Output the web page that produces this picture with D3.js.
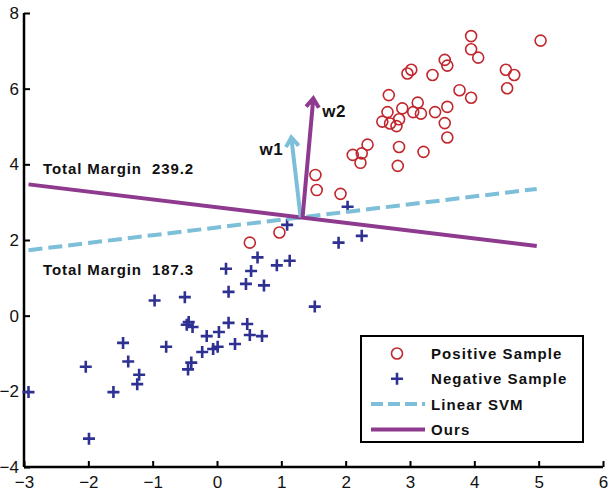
<!DOCTYPE html>
<html>
<head>
<meta charset="utf-8">
<script src="https://cdn.jsdelivr.net/npm/d3@7"></script>
<style>
body { margin: 0; background: #fff; }
text { font-family: "Liberation Sans", Arial, sans-serif; }
</style>
</head>
<body>
<svg id="chart"></svg>
<script>
var svgw = 609
var svgh = 495

// positive samples (circles)
var posX = [3.95, 5.03, 3.95, 4.06, 3.54, 3.58, 4.49, 4.62, 3.02, 2.96, 3.35, 4.51, 3.77, 3.95, 2.67,
            3.12, 2.88, 3.58, 2.65, 3.05, 3.17, 3.39, 2.57, 2.83, 2.69, 2.79, 3.54, 3.58, 2.34, 2.83,
            3.21, 2.25, 2.11, 2.23, 2.81, 1.53, 1.55, 1.92, 0.97, 0.51]
var posY = [7.39, 7.27, 7.04, 6.82, 6.76, 6.61, 6.50, 6.36, 6.50, 6.40, 6.36, 6.01, 5.96, 5.76, 5.83,
            5.63, 5.48, 5.52, 5.38, 5.38, 5.34, 5.38, 5.13, 5.19, 5.08, 5.01, 5.09, 4.71, 4.52, 4.46,
            4.33, 4.29, 4.25, 4.04, 3.96, 3.72, 3.32, 3.22, 2.20, 1.93]

// negative samples (plus)
var negX = [-2.93, -1.99, -2.04, -1.61, -1.46, -1.38, -1.21, -1.24, -0.97, -0.79, -0.50, -0.44, -0.38,
            -0.47, -0.40, -0.45, -0.23, -0.16, 0.03, -0.06, 0.01, 0.18, 0.47, 0.28, 0.51, 0.70, 0.14,
            0.18, 0.45, 0.73, 0.53, 0.63, 0.93, 1.13, 1.09, 2.03, 2.25, 1.89, 1.52]
var negY = [-2.02, -3.25, -1.35, -2.02, -0.72, -1.21, -1.56, -1.81, 0.40, -0.82, 0.49, -0.17, -0.30,
            -0.24, -1.24, -1.42, -0.96, -0.54, -0.43, -0.88, -0.82, -0.19, -0.22, -0.75, -0.51, -0.54, 1.24,
            0.63, 0.84, 0.80, 1.18, 1.54, 1.33, 1.45, 2.40, 2.88, 2.11, 1.93, 0.24]

// separating lines, [x, y] endpoints
var oursLine = [[-2.93, 3.47], [4.97, 1.84]]
var svmLine = [[-2.93, 1.73], [4.97, 3.35]]

// normal vectors
var w1 = [[1.30, 2.60], [1.155, 4.71]]
var w2 = [[1.33, 2.60], [1.497, 5.745]]

var marginLabels = ["Total Margin  239.2", "Total Margin  187.3"]
var legendNames = ["Positive Sample", "Negative Sample", "Linear SVM", "Ours"]

var xTicks = [-3, -2, -1, 0, 1, 2, 3, 4, 5, 6]
var yTicks = [-4, -2, 0, 2, 4, 6, 8]

var red = "#c1272d"
var navy = "#2e3192"
var blue = "#7dbfd8"
var purple = "#8e3a8f"

var svg = d3.select("#chart")
    .attr("width", svgw)
    .attr("height", svgh)

var xscale = d3.scaleLinear().domain([-3, 6]).range([24, 603])
var yscale = d3.scaleLinear().domain([-4, 8]).range([467, 13])

// axes
var xAxis = d3.axisBottom(xscale).tickValues(xTicks).tickSize(-6).tickPadding(9)
var yAxis = d3.axisLeft(yscale).tickValues(yTicks).tickSize(-6).tickPadding(5)

var gx = svg.append("g")
    .attr("transform", "translate(0," + yscale(-4) + ")")
    .call(xAxis)
var gy = svg.append("g")
    .attr("transform", "translate(" + xscale(-3) + ",0)")
    .call(yAxis)

;[gx, gy].forEach(function(g) {
    g.select(".domain").attr("stroke", "#000").attr("stroke-width", 2.5)
    g.selectAll(".tick line").attr("stroke", "#000").attr("stroke-width", 2)
    g.selectAll(".tick text")
        .style("font-size", "17px")
        .attr("fill", "#111")
        .style("font-family", "'Liberation Sans', Arial, sans-serif")
})
gx.select(".domain").attr("d", "M" + xscale(-3) + ",0H" + xscale(6))
gy.select(".domain").attr("d", "M0," + yscale(8) + "V" + yscale(-4))

// samples
var pos = posX.map(function(d, i) { return [d, posY[i]] })
var neg = negX.map(function(d, i) { return [d, negY[i]] })

svg.append("g").selectAll("circle")
    .data(pos)
    .enter()
    .append("circle")
    .attr("cx", function(d) { return xscale(d[0]) })
    .attr("cy", function(d) { return yscale(d[1]) })
    .attr("r", 5.5)
    .attr("fill", "none")
    .attr("stroke", red)
    .attr("stroke-width", 1.6)

var plusPath = "M-6,0H6M0,-6V6"
svg.append("g").selectAll("path")
    .data(neg)
    .enter()
    .append("path")
    .attr("d", plusPath)
    .attr("transform", function(d) { return "translate(" + xscale(d[0]) + "," + yscale(d[1]) + ")" })
    .attr("stroke", navy)
    .attr("stroke-width", 2.6)

// lines
var line = d3.line()
    .x(function(d) { return xscale(d[0]) })
    .y(function(d) { return yscale(d[1]) })

svg.append("path")
    .attr("d", line(svmLine))
    .attr("fill", "none")
    .attr("stroke", blue)
    .attr("stroke-width", 4)
    .attr("stroke-dasharray", "14,6")

svg.append("path")
    .attr("d", line(oursLine))
    .attr("fill", "none")
    .attr("stroke", purple)
    .attr("stroke-width", 4)

// arrows
var drawArrow = function(vec, color) {
    var x0 = xscale(vec[0][0]), y0 = yscale(vec[0][1])
    var x1 = xscale(vec[1][0]), y1 = yscale(vec[1][1])
    var ang = Math.atan2(y1 - y0, x1 - x0)
    var len = 11, spread = 0.62
    var a1 = [x1 - len * Math.cos(ang - spread), y1 - len * Math.sin(ang - spread)]
    var a2 = [x1 - len * Math.cos(ang + spread), y1 - len * Math.sin(ang + spread)]
    svg.append("path")
        .attr("d", "M" + x0 + "," + y0 + "L" + x1 + "," + y1 +
              "M" + a1[0] + "," + a1[1] + "L" + x1 + "," + y1 + "L" + a2[0] + "," + a2[1])
        .attr("fill", "none")
        .attr("stroke", color)
        .attr("stroke-width", 4)
        .attr("stroke-linejoin", "miter")
}
drawArrow(w1, blue)
drawArrow(w2, purple)

svg.append("text")
    .text("w1")
    .attr("x", xscale(w1[1][0]) - 8)
    .attr("y", yscale(w1[1][1]) + 18)
    .attr("text-anchor", "end")
    .style("font-size", "17px")
    .style("font-weight", "bold")
    .style("letter-spacing", "0.5px")
    .attr("fill", "#111")

svg.append("text")
    .text("w2")
    .attr("x", xscale(w2[1][0]) + 9)
    .attr("y", yscale(w2[1][1]) + 19)
    .style("font-size", "17px")
    .style("font-weight", "bold")
    .style("letter-spacing", "0.5px")
    .attr("fill", "#111")

// margin labels
svg.append("text")
    .text(marginLabels[0])
    .attr("x", 43)
    .attr("y", 174)
    .style("font-size", "15px")
    .style("font-weight", "bold")
    .style("letter-spacing", "0.9px")
    .style("white-space", "pre")
    .attr("fill", "#111")

svg.append("text")
    .text(marginLabels[1])
    .attr("x", 43)
    .attr("y", 275)
    .style("font-size", "15px")
    .style("font-weight", "bold")
    .style("letter-spacing", "0.9px")
    .style("white-space", "pre")
    .attr("fill", "#111")

// legend
var legend = svg.append("g").attr("transform", "translate(361,336)")
legend.append("rect")
    .attr("width", 222)
    .attr("height", 106)
    .attr("fill", "#fff")
    .attr("stroke", "#000")
    .attr("stroke-width", 2)

var entries = legend.selectAll("g.entry")
    .data(legendNames)
    .enter()
    .append("g")
    .attr("class", "entry")
    .attr("transform", function(d, i) { return "translate(0," + (17.5 + i * 25.3) + ")" })

entries.append("text")
    .text(function(d) { return d })
    .attr("x", 70)
    .attr("y", 5.5)
    .style("font-size", "15px")
    .style("font-weight", "bold")
    .style("letter-spacing", "1.1px")
    .attr("fill", "#111")

entries.each(function(d, i) {
    var g = d3.select(this)
    if (i == 0) {
        g.append("circle").attr("cx", 36).attr("cy", 0).attr("r", 5.5)
            .attr("fill", "none").attr("stroke", red).attr("stroke-width", 1.6)
    }
    if (i == 1) {
        g.append("path").attr("d", plusPath).attr("transform", "translate(36,0)")
            .attr("stroke", navy).attr("stroke-width", 2.6)
    }
    if (i == 2) {
        g.append("line").attr("x1", 10).attr("x2", 64).attr("y1", 0).attr("y2", 0)
            .attr("stroke", blue).attr("stroke-width", 4).attr("stroke-dasharray", "12,5")
    }
    if (i == 3) {
        g.append("line").attr("x1", 10).attr("x2", 64).attr("y1", 0).attr("y2", 0)
            .attr("stroke", purple).attr("stroke-width", 4)
    }
})
</script>
</body>
</html>
